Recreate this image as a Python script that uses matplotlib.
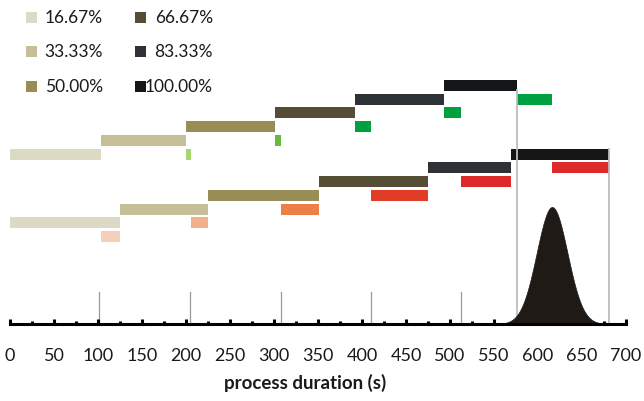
import numpy as np
import matplotlib
matplotlib.use("Agg")
import matplotlib.pyplot as plt
from matplotlib.patches import Rectangle

plt.rcParams['font.family'] = ['Lato', 'DejaVu Sans']

# phases (share of the process) and their colours
phases = ['16.67%', '33.33%', '50.00%', '66.67%', '83.33%', '100.00%']
phase_colors = ['#dcdac4', '#c4bf97', '#978d55', '#554d35', '#2e3236', '#151617']

# upper schedule: phase boundaries (s) and the short green delays after each phase
upper_bounds = [0, 103, 200, 301, 392, 493, 576]
green_end = [206, 308, 410, 513, 616]
green_colors = ['#a6d574', '#66bb3e', '#00a040', '#00a040', '#00a040']

# lower schedule: phase boundaries (s) and the red overlap ends
lower_bounds = [0, 125, 225, 351, 475, 569, 681]
red_start = [103, 206, 308, 410, 513, 616]
red_colors = ['#f4d0bc', '#f0b08c', '#eb7f47', '#e03c28', '#dc2b28', '#dc2b28']

# markers on the time axis
short_marks = [101, 205, 308, 410, 513]
tall_marks = [576, 681]
tall_tops = [234, 175]

# duration distribution
dist_mean, dist_sd, dist_peak = 616, 17.5, 117

W, H = 644, 401
fig = plt.figure(figsize=(W / 100, H / 100), dpi=100)
base_px = 324
ax = fig.add_axes([10 / W, (H - base_px) / H, 616 / W, base_px / H])
ax.set_xlim(0, 700)
ax.set_ylim(0, base_px)


def lane_y(k):
    return base_px - (85.5 + 13.73 * k)


bar_h = 11

# upper schedule
for i in range(6):
    ax.barh(lane_y(5 - i), upper_bounds[i + 1] - upper_bounds[i], left=upper_bounds[i],
            height=bar_h, color=phase_colors[i], linewidth=0)
for j in range(5):
    s = upper_bounds[j + 2]
    ax.barh(lane_y(5 - j), green_end[j] - s, left=s, height=bar_h,
            color=green_colors[j], linewidth=0)

# lower schedule
for i in range(6):
    ax.barh(lane_y(10 - i), lower_bounds[i + 1] - lower_bounds[i], left=lower_bounds[i],
            height=bar_h, color=phase_colors[i], linewidth=0)
    ax.barh(lane_y(11 - i), lower_bounds[i + 1] - red_start[i], left=red_start[i],
            height=bar_h, color=red_colors[i], linewidth=0)

# vertical marks
for x in short_marks:
    ax.plot([x, x], [0, 32], color='#9a9a9a', lw=0.9, zorder=1)
for x, t in zip(tall_marks, tall_tops):
    ax.plot([x, x], [0, t], color='#bdbdbd', lw=1.3, zorder=1)

# distribution
xs = np.linspace(dist_mean - 5 * dist_sd, dist_mean + 5 * dist_sd, 400)
ys = dist_peak * np.exp(-0.5 * ((xs - dist_mean) / dist_sd) ** 2)
ax.fill_between(xs, 0, ys, color='#201a17', linewidth=0.5, edgecolor='#201a17', zorder=2)

# axis styling
for side in ['left', 'right', 'top']:
    ax.spines[side].set_visible(False)
ax.spines['bottom'].set_linewidth(2.2)
ax.spines['bottom'].set_zorder(5)
ax.set_yticks([])
ax.set_xticks(np.arange(0, 701, 50))
ax.set_xticks(np.arange(25, 700, 50), minor=True)
ax.tick_params(axis='x', which='major', direction='in', length=3.6, width=2.2,
               color='black', pad=17, labelsize=13, labelcolor='#1a1a1a')
ax.tick_params(axis='x', which='minor', direction='in', length=2.4, width=2.2, color='black')
ax.patch.set_alpha(0)

fig.text(305 / W, 1 - 383 / H, 'process duration (s)', ha='center', va='center',
         fontsize=13.5, fontweight='bold', color='#1a1a1a')

# legend
leg_rows = [17.6, 51.6, 86.5]
for n, label in enumerate(phases):
    col, row = divmod(n, 3)
    sq_x = [26, 135][col]
    txt_x = [103, 213][col]
    cy = leg_rows[row]
    fig.patches.append(Rectangle((sq_x / W, 1 - (cy + 5.5) / H), 11 / W, 11 / H,
                                 transform=fig.transFigure, color=phase_colors[n],
                                 linewidth=0))
    fig.text(txt_x / W, 1 - cy / H, label, ha='right', va='center', fontsize=12.5,
             color='#1a1a1a')

fig.savefig('out.png', dpi=100)
